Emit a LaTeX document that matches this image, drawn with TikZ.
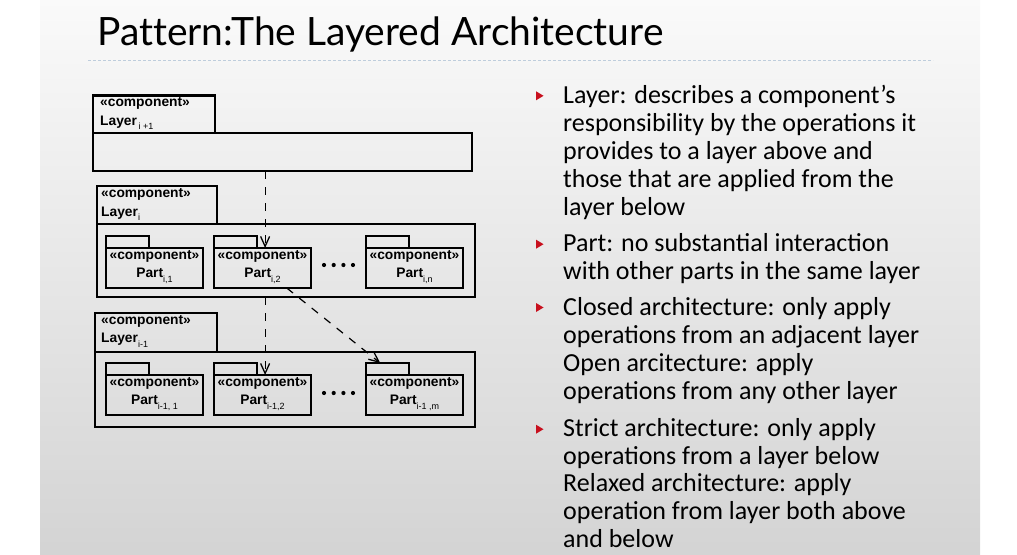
\documentclass[tikz,border=0pt]{standalone}
\usepackage{fontspec}
\setmainfont{Carlito}
\newfontfamily\titlefont[Ligatures=NoCommon]{Lato}
\newfontfamily\umlfont{Liberation Sans}
\usetikzlibrary{arrows.meta,calc}

% subscript as set in the UML labels
\newcommand\umlsub[1]{\raisebox{-4.5pt}{\mdseries\fontsize{9}{9}\selectfont#1}}

\definecolor{bulletred}{RGB}{200,16,30}
\definecolor{rulecol}{RGB}{190,205,220}

\begin{document}
\begin{tikzpicture}[x=1pt,y=-1pt,
  lbox/.style={draw, line width=2.3pt, inner sep=0pt, outer sep=0pt, fill=none},
  pbox/.style={draw, line width=2pt, inner sep=0pt, outer sep=0pt},
  size/.style 2 args={minimum width=#1pt, minimum height=#2pt},
  umltext/.style={font=\umlfont\bfseries\fontsize{13.8}{14}\selectfont, inner sep=0pt},
  bodytext/.style={font=\fontsize{26}{28}\selectfont, inner sep=0pt, anchor=base west},
  dep/.style={line width=1.2pt, dash pattern=on 8pt off 8pt,
    -{Straight Barb[length=10pt,width=9pt,line width=1.3pt]}},
]
\useasboundingbox (0,0) rectangle (1017,554);

% slide background
\shade[top color=white!98!black, bottom color=white!83!black] (40,0) rectangle (980,554);

% title and rule
\node[anchor=base west, inner sep=0pt, font=\titlefont\fontsize{39}{39}\selectfont] (title) at (97,45) {Pattern:The Layered Architecture};
\draw[rulecol, line width=1pt, dash pattern=on 3pt off 2pt] (88,60) -- (933,60);

% ---- Layer i+1
\node[lbox, size={122}{37.5}, anchor=north west] (L1t) at (93,95.5) {};
\node[lbox, size={379}{38}, anchor=north west] (L1) at (93,133) {};
\node[umltext, anchor=base west] (L1s) at (100,106.5) {«component»};
\node[umltext, anchor=base west] (L1n) at (100,125) {Layer\umlsub{\,i +1}};

% ---- Layer i
\node[lbox, size={120}{38}, anchor=north west] (L2t) at (97,186) {};
\node[lbox, size={378}{73}, anchor=north west] (L2) at (97,224) {};
\node[umltext, anchor=base west] (L2s) at (101,197.5) {«component»};
\node[umltext, anchor=base west] (L2n) at (101,216) {Layer\umlsub{i}};

% ---- Layer i-1
\node[lbox, size={122}{39}, anchor=north west] (L3t) at (95,313) {};
\node[lbox, size={380}{75}, anchor=north west] (L3) at (95,352) {};
\node[umltext, anchor=base west] (L3s) at (101,324) {«component»};
\node[umltext, anchor=base west] (L3n) at (101,342.5) {Layer\umlsub{i-1}};

% ---- parts
\newcommand\umlpart[4]{%
  \node[pbox, size={97}{40}, anchor=north west] (#1) at (#2,#3) {};
  \node[pbox, size={43}{12}, anchor=south west] (#1t) at (#1.north west) {};
  \node[umltext, anchor=base] (#1s) at ($(#1.north)+(0,11.5)$) {«component»};
  \node[umltext, anchor=base] (#1n) at ($(#1.north)+(0,29.5)$) {Part\umlsub{#4}};
}
\umlpart{P21}{106}{248}{i,1}
\umlpart{P22}{214}{248}{i,2}
\umlpart{P23}{366}{248}{i,n}
\umlpart{P31}{106}{375}{i-1, 1}
\umlpart{P32}{214}{375}{i-1,2}
\umlpart{P33}{366}{375}{i-1 ,m}

% ellipses between parts
\foreach \yy in {265,393}
  \foreach \xx in {324,333.7,343.4,353}
    \fill (\xx,\yy) circle (2.1pt);

% dependencies
\coordinate (d1) at ($(P22.north west)!0.527!(P22.north east)$);
\coordinate (d2) at ($(P32.north west)!0.527!(P32.north east)$);
\draw[dep] (L1.south -| d1) -- (d1);
\draw[dep] (L2.south -| d2) -- (d2);
\draw[dep] ($(P22.south west)!0.75!(P22.south east)$) -- ($(P33t.north west)!0.33!(P33t.north east)$);

% bullets
\foreach \b in {103.3,251.7,315,436.7}
  \fill[bulletred] (536,\b-12) -- (543.5,\b-7.5) -- (536,\b-3) -- cycle;

% bullet text
\foreach \yy/\txt [count=\k] in {
  103.3/{Layer: describes a component’s},
  131.3/{responsibility by the operations it},
  159.3/{provides to a layer above and},
  187.3/{those that are applied from the},
  215.3/{layer below},
  251.7/{Part: no substantial interaction},
  279.5/{with other parts in the same layer},
  315/{Closed architecture: only apply},
  343.2/{operations from an adjacent layer},
  371.1/{Open arcitecture: apply},
  399.1/{operations from any other layer},
  436.7/{Strict architecture: only apply},
  464/{operations from a layer below},
  491.8/{Relaxed architecture: apply},
  519.5/{operation from layer both above},
  547.3/{and below}}
  \node[bodytext] (line\k) at (563,\yy) {\txt};
\end{tikzpicture}
\end{document}
